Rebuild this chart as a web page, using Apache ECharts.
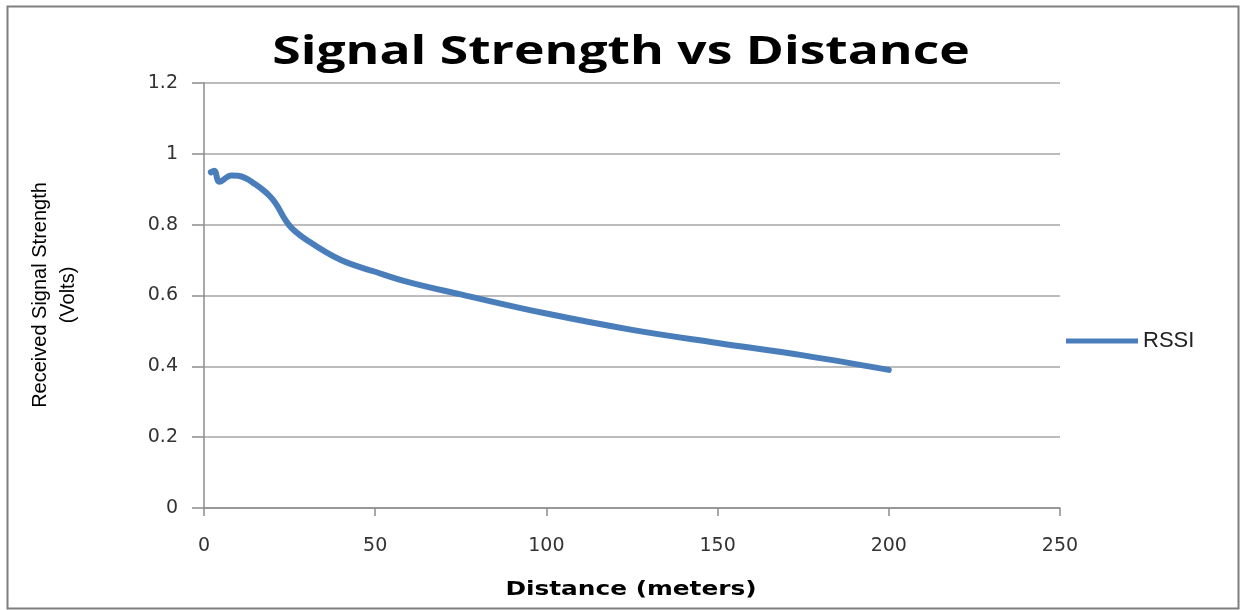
<!DOCTYPE html>
<html>
<head>
<meta charset="utf-8">
<script src="https://cdn.jsdelivr.net/npm/echarts@6/dist/echarts.min.js"></script>
<style>
html,body{margin:0;padding:0;background:#fff;}
#c{width:1242px;height:610px;}
</style>
</head>
<body>
<div id="c"></div>
<script>
const distances = [2, 3, 4.5, 8, 10, 15, 20, 25, 30, 40, 50, 60, 75, 100, 125, 150, 175, 200];
const rssi = [0.948, 0.952, 0.921, 0.939, 0.938, 0.914, 0.872, 0.797, 0.757, 0.700, 0.667, 0.637, 0.603, 0.549, 0.503, 0.466, 0.431, 0.390];
const seriesName = 'RSSI';
const chartTitle = 'Signal Strength vs Distance';
const xTitle = 'Distance (meters)';
const yTitle = 'Received Signal Strength\n(Volts)';

const data = distances.map((d, i) => [d, rssi[i]]);
const chart = echarts.init(document.getElementById('c'));
const gray = '#a6a6a6';
chart.setOption({
  backgroundColor: '#fff',
  animation: false,
  legend: {
    left: 1066, top: 330, padding: 0,
    icon: 'rect', itemWidth: 72, itemHeight: 5, itemGap: 6,
    textStyle: {fontFamily: 'Liberation Sans Narrow, Liberation Sans', fontSize: 22, color: '#222'},
    data: [seriesName]
  },
  grid: {left: 204, right: 182, top: 83, bottom: 102, containLabel: false},
  xAxis: {
    type: 'value', min: 0, max: 250, interval: 50,
    axisLine: {show: true, lineStyle: {color: '#8c8c8c', width: 1.5}},
    axisTick: {show: true, length: 8, lineStyle: {color: '#8c8c8c', width: 1.5}},
    axisLabel: {margin: 29, fontFamily: 'DejaVu Sans', fontSize: 19, color: '#333'},
    splitLine: {show: false}
  },
  yAxis: {
    type: 'value', min: 0, max: 1.2, interval: 0.2,
    axisLine: {show: true, lineStyle: {color: '#8c8c8c', width: 1.5}},
    axisTick: {show: true, length: 12, lineStyle: {color: '#8c8c8c', width: 1.5}},
    axisLabel: {margin: 26, fontFamily: 'DejaVu Sans', fontSize: 19, color: '#333',
      formatter: v => String(Math.round(v * 10) / 10)},
    splitLine: {show: true, lineStyle: {color: gray, width: 1.5}}
  },
  series: [{
    name: seriesName, type: 'line', data: data, smooth: 0.4,
    showSymbol: false, symbol: 'none',
    lineStyle: {color: '#4a7ebb', width: 6, cap: 'round'},
    itemStyle: {color: '#4a7ebb'}
  }],
  graphic: [
    {type: 'rect', left: 5, top: 4, shape: {width: 1231, height: 602},
     style: {fill: 'none', stroke: '#7f7f7f', lineWidth: 2}},
    {type: 'text', x: 621, y: 53, scaleX: 1.29,
     style: {text: chartTitle, align: 'center', verticalAlign: 'middle',
      fontFamily: 'Open Sans', fontWeight: 'bold', fontSize: 40, fill: '#000'}},
    {type: 'text', x: 631, y: 590, scaleX: 1.24,
     style: {text: xTitle, align: 'center', verticalAlign: 'middle',
      fontFamily: 'DejaVu Sans', fontWeight: 'bold', fontSize: 20, fill: '#000'}},
    {type: 'text', x: 54, y: 295, rotation: Math.PI / 2,
     style: {text: yTitle, align: 'center', verticalAlign: 'middle', lineHeight: 28,
      fontFamily: 'Liberation Sans Narrow, Liberation Sans', fontSize: 20, fill: '#000'}}
  ]
});
</script>
</body>
</html>
